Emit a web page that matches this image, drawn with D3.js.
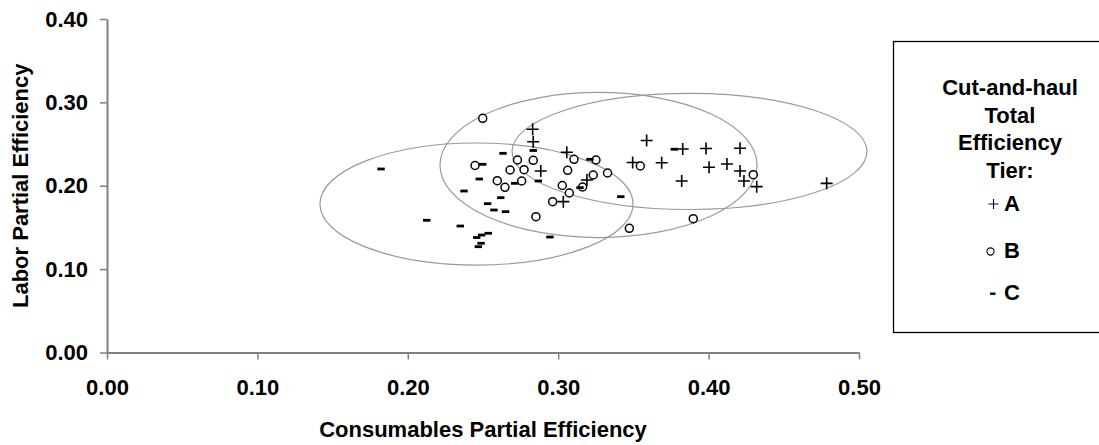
<!DOCTYPE html>
<html>
<head>
<meta charset="utf-8">
<script src="https://cdn.jsdelivr.net/npm/d3@7"></script>
<style>
  body { margin: 0; background: #fff; }
  text { font-family: "Liberation Sans", Arial, sans-serif; font-weight: bold; fill: #000; }
</style>
</head>
<body>
<script>
// tier A (plus), B (circle), C (dash): [consumables, labor]
const tierA = [
  [0.2830, 0.2677], [0.2834, 0.2528], [0.3057, 0.2401], [0.2884, 0.2177], [0.3034, 0.1809],
  [0.3588, 0.2543], [0.3495, 0.2279], [0.3688, 0.2276], [0.3828, 0.2441], [0.3821, 0.2057],
  [0.3983, 0.2447], [0.4003, 0.2221], [0.4209, 0.2449], [0.4122, 0.2261], [0.4209, 0.2177],
  [0.4235, 0.2057], [0.4320, 0.1989], [0.4785, 0.2029], [0.3191, 0.2069]
];
const tierB = [
  [0.2498, 0.2809], [0.2447, 0.2243], [0.2729, 0.2309], [0.2834, 0.2305], [0.2680, 0.2189],
  [0.2773, 0.2193], [0.2595, 0.2061], [0.2646, 0.1981], [0.2757, 0.2057], [0.2852, 0.1629],
  [0.3105, 0.2317], [0.3063, 0.2185], [0.3251, 0.2309], [0.3233, 0.2129], [0.3328, 0.2153],
  [0.3027, 0.2003], [0.3074, 0.1913], [0.3162, 0.1985], [0.2963, 0.1809], [0.3473, 0.1490],
  [0.3546, 0.2237], [0.3898, 0.1605], [0.4297, 0.2133]
];
const tierC = [
  [0.1822, 0.2201], [0.2633, 0.2389], [0.2498, 0.2257], [0.2475, 0.2081], [0.2374, 0.1937],
  [0.2711, 0.2029], [0.2618, 0.1857], [0.2531, 0.1785], [0.2573, 0.1709], [0.2650, 0.1689],
  [0.2126, 0.1586], [0.2349, 0.1517], [0.2535, 0.1430], [0.2491, 0.1409], [0.2458, 0.1379],
  [0.2487, 0.1310], [0.2469, 0.1269], [0.2834, 0.2423], [0.2868, 0.2057], [0.3145, 0.1977],
  [0.3211, 0.2317], [0.3416, 0.1869], [0.2945, 0.1385], [0.3772, 0.2438]
];
// ellipses: [cx, cy, rx, ry] in data units
const ellipses = [
  [0.2457, 0.1781, 0.1041, 0.0732],
  [0.3268, 0.2249, 0.1054, 0.0870],
  [0.3873, 0.2411, 0.1180, 0.0696]
];
const xTicks = [0, 0.1, 0.2, 0.3, 0.4, 0.5];
const yTicks = [0, 0.1, 0.2, 0.3, 0.4];
const legendTitle = ["Cut-and-haul", "Total", "Efficiency", "Tier:"];
const legendItems = ["A", "B", "C"];

const W = 1099, H = 445;
const svg = d3.select("body").append("svg").attr("width", W).attr("height", H);

const x = d3.scaleLinear().domain([0, 0.5]).range([107, 859]);
const y = d3.scaleLinear().domain([0, 0.4]).range([352.5, 19]);
const fmt = d3.format(".2f");

// ellipses
svg.append("g").selectAll("ellipse")
  .data(ellipses)
  .enter().append("ellipse")
  .attr("cx", d => x(d[0]))
  .attr("cy", d => y(d[1]))
  .attr("rx", d => x(d[0] + d[2]) - x(d[0]))
  .attr("ry", d => y(d[1]) - y(d[1] + d[3]))
  .attr("fill", "none")
  .attr("stroke", "#9a9a9a")
  .attr("stroke-width", 1.2);

// axes
const gx = svg.append("g")
  .attr("transform", `translate(0,${y(0)})`)
  .call(d3.axisBottom(x).tickValues(xTicks).tickFormat(fmt).tickSize(7).tickSizeOuter(0).tickPadding(20));
const gy = svg.append("g")
  .attr("transform", `translate(${x(0)},0)`)
  .call(d3.axisLeft(y).tickValues(yTicks).tickFormat(fmt).tickSize(7).tickSizeOuter(0).tickPadding(12));

[gx, gy].forEach(g => {
  g.select(".domain").attr("stroke", "#808080").attr("stroke-width", 2);
  g.selectAll(".tick line").attr("stroke", "#808080").attr("stroke-width", 1.5);
  g.selectAll(".tick text")
    .attr("font-size", 22)
    .attr("font-family", "Liberation Sans, Arial, sans-serif")
    .attr("font-weight", "bold")
    .attr("fill", "#000");
});

// axis titles
svg.append("text")
  .attr("x", (x(0) + x(0.5)) / 2)
  .attr("y", 437)
  .attr("text-anchor", "middle")
  .attr("font-size", 22)
  .text("Consumables Partial Efficiency");

svg.append("text")
  .attr("transform", `translate(28,${(y(0) + y(0.4)) / 2}) rotate(-90)`)
  .attr("text-anchor", "middle")
  .attr("font-size", 22)
  .text("Labor Partial Efficiency");

// markers
const plus = s => `M${-s},0H${s}M0,${-s}V${s}`;

svg.append("g").selectAll("path")
  .data(tierA)
  .enter().append("path")
  .attr("d", plus(6))
  .attr("transform", d => `translate(${x(d[0])},${y(d[1])})`)
  .attr("stroke", "#000")
  .attr("stroke-width", 1.6)
  .attr("fill", "none");

svg.append("g").selectAll("circle")
  .data(tierB)
  .enter().append("circle")
  .attr("cx", d => x(d[0]))
  .attr("cy", d => y(d[1]))
  .attr("r", 4)
  .attr("fill", "#fff")
  .attr("stroke", "#000")
  .attr("stroke-width", 1.5);

svg.append("g").selectAll("rect")
  .data(tierC)
  .enter().append("rect")
  .attr("x", d => x(d[0]) - 3.7)
  .attr("y", d => y(d[1]) - 1.4)
  .attr("width", 7.4)
  .attr("height", 2.8)
  .attr("fill", "#000");

// legend
const lg = svg.append("g");
lg.append("rect")
  .attr("x", 893.5).attr("y", 41.5)
  .attr("width", 250).attr("height", 291)
  .attr("fill", "#fff")
  .attr("stroke", "#000")
  .attr("stroke-width", 1.3);

const cx = 1010;
lg.selectAll("text.title")
  .data(legendTitle)
  .enter().append("text")
  .attr("class", "title")
  .attr("x", cx)
  .attr("y", (d, i) => 95 + i * 27.6)
  .attr("text-anchor", "middle")
  .attr("font-size", 22)
  .text(d => d);

const itemY = [211, 258, 300];
lg.selectAll("text.item")
  .data(legendItems)
  .enter().append("text")
  .attr("class", "item")
  .attr("x", 1004)
  .attr("y", (d, i) => itemY[i])
  .attr("font-size", 22)
  .text(d => d);

lg.append("path")
  .attr("d", plus(5))
  .attr("transform", `translate(993.5,${itemY[0] - 7})`)
  .attr("stroke", "#000")
  .attr("stroke-width", 1.1);
lg.append("circle")
  .attr("cx", 990.5).attr("cy", itemY[1] - 6.5).attr("r", 3.6)
  .attr("fill", "#fff").attr("stroke", "#000").attr("stroke-width", 1.1);
lg.append("rect")
  .attr("x", 990).attr("y", itemY[2] - 7.5)
  .attr("width", 5.5).attr("height", 2.4)
  .attr("fill", "#000");
</script>
</body>
</html>
